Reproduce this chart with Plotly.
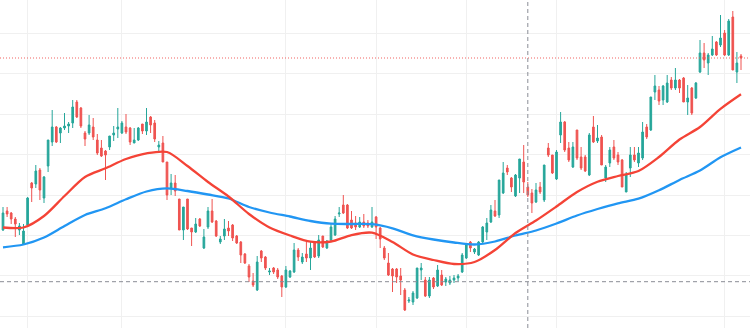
import plotly.graph_objects as go

# Daily OHLC bars (bar index 0..180)
opens = [77.0, 78.9, 78.7, 78.1, 77.0, 75.6, 77.5, 81.7, 81.6, 83.0,
         80.2, 83.4, 85.8, 87.3, 86.7, 87.2, 87.4, 87.7, 89.8, 89.2,
         86.7, 86.7, 87.3, 86.0, 85.2, 84.9, 85.3, 86.5, 87.1, 86.7,
         87.3, 87.2, 85.7, 86.0, 87.6, 86.9, 88.3, 87.7, 85.3, 85.7,
         83.8, 81.2, 81.7, 80.1, 77.0, 80.1, 77.2, 76.8, 78.1, 75.2,
         77.3, 78.9, 77.9, 75.8, 76.4, 77.2, 77.5, 76.4, 75.8, 74.6,
         73.4, 71.9, 71.0, 74.9, 74.3, 72.8, 73.2, 73.0, 72.4, 71.3,
         72.3, 72.8, 75.0, 73.8, 74.6, 74.2, 75.7, 74.4, 76.4, 75.2,
         76.0, 76.5, 78.6, 79.5, 79.5, 78.0, 77.7, 77.3, 77.8, 77.7,
         77.3, 78.3, 77.2, 75.2, 73.7, 73.1, 73.1, 72.4, 71.0, 69.9,
         69.8, 70.2, 73.0, 72.0, 70.4, 72.2, 71.4, 72.5, 71.8, 71.7,
         72.0, 72.2, 72.8, 74.2, 75.8, 74.8, 74.5, 75.8, 76.8, 77.8,
         78.9, 78.5, 80.7, 83.2, 82.2, 80.4, 82.2, 83.8, 81.3, 80.7,
         79.8, 81.3, 80.0, 85.2, 84.5, 82.1, 86.5, 87.8, 85.2, 83.3,
         87.0, 84.3, 84.3, 82.5, 87.3, 85.9, 86.3, 82.2, 83.7, 85.3,
         84.5, 84.0, 80.8, 83.2, 84.5, 83.7, 84.2, 87.3, 87.0, 90.8,
         91.0, 90.0, 89.8, 92.0, 91.2, 92.0, 92.2, 89.8, 91.2, 90.2,
         92.8, 94.7, 93.7, 94.5, 95.8, 95.5, 96.7, 94.5, 98.3, 92.8,
         94.4]
highs = [79.3, 79.3, 78.8, 78.3, 77.7, 77.6, 80.3, 81.8, 83.5, 83.2,
         82.4, 86.0, 89.0, 87.4, 87.3, 88.7, 87.8, 90.0, 90.0, 89.3,
         86.9, 88.5, 88.2, 86.6, 86.0, 85.0, 86.4, 87.4, 89.2, 87.9,
         88.6, 87.3, 87.2, 87.3, 87.6, 89.2, 88.4, 88.0, 85.9, 86.4,
         83.8, 82.6, 82.5, 80.1, 79.3, 80.1, 77.2, 78.2, 78.2, 77.1,
         79.3, 80.1, 78.0, 76.4, 78.1, 77.9, 77.6, 76.5, 75.9, 74.7,
         73.6, 72.7, 74.4, 75.0, 74.4, 73.2, 73.3, 73.2, 72.5, 73.4,
         73.0, 75.7, 75.2, 74.7, 75.8, 75.8, 75.8, 76.5, 76.4, 76.0,
         77.7, 78.4, 79.3, 80.5, 79.6, 78.9, 78.4, 78.3, 78.6, 78.0,
         79.3, 78.4, 77.3, 75.4, 74.7, 73.2, 73.2, 73.2, 71.2, 70.3,
         70.9, 73.2, 73.7, 72.3, 72.3, 72.3, 73.5, 73.0, 72.3, 72.4,
         72.5, 72.6, 74.7, 75.7, 75.9, 75.2, 75.9, 77.4, 78.2, 79.5,
         80.0, 82.0, 83.8, 83.5, 82.3, 82.6, 84.1, 85.5, 81.8, 81.1,
         81.7, 81.8, 83.5, 85.7, 84.5, 85.0, 88.8, 87.9, 85.8, 85.8,
         87.0, 85.3, 84.5, 86.7, 88.4, 87.5, 86.5, 83.5, 85.3, 86.0,
         84.8, 84.1, 82.8, 85.3, 85.3, 85.3, 87.8, 87.6, 90.3, 92.5,
         91.4, 91.5, 92.5, 92.3, 93.2, 92.1, 92.3, 91.5, 91.3, 91.8,
         96.0, 95.7, 94.7, 96.4, 95.9, 98.5, 97.0, 98.1, 98.9, 94.8,
         94.6]
lows = [76.9, 78.3, 77.6, 76.3, 76.5, 75.5, 77.3, 79.8, 81.2, 80.0,
        79.7, 82.8, 85.4, 85.7, 85.7, 87.0, 86.7, 87.2, 88.2, 87.2,
        85.4, 86.5, 86.0, 84.5, 84.3, 82.0, 85.0, 85.9, 86.2, 86.6,
        86.6, 85.5, 85.7, 85.9, 86.6, 86.5, 86.7, 85.8, 84.7, 83.8,
        80.0, 80.5, 80.4, 77.0, 76.0, 77.0, 75.4, 76.7, 77.3, 75.1,
        77.1, 77.7, 76.3, 75.6, 76.0, 76.4, 75.9, 75.6, 73.7, 73.6,
        71.8, 71.3, 70.9, 73.8, 73.0, 72.5, 72.6, 72.1, 70.3, 71.2,
        72.2, 72.7, 73.9, 73.6, 73.8, 73.0, 74.2, 74.2, 75.2, 75.1,
        75.9, 76.4, 78.3, 78.6, 77.1, 77.1, 77.0, 77.2, 77.2, 77.2,
        77.2, 76.1, 75.2, 74.0, 72.4, 70.8, 71.7, 70.5, 68.9, 69.7,
        69.5, 70.1, 72.0, 70.3, 70.2, 71.1, 71.3, 71.4, 71.4, 71.5,
        71.7, 71.9, 72.7, 74.1, 74.8, 74.6, 74.4, 75.7, 76.0, 77.7,
        78.3, 78.2, 80.6, 82.5, 80.8, 80.3, 80.7, 80.7, 80.3, 78.7,
        79.7, 80.6, 79.8, 84.3, 82.6, 82.0, 85.7, 84.8, 83.8, 83.2,
        84.0, 83.0, 82.8, 82.4, 85.7, 85.7, 83.5, 81.8, 83.3, 84.0,
        83.5, 81.3, 80.8, 82.3, 83.8, 83.3, 84.0, 86.1, 86.9, 90.0,
        89.5, 89.5, 89.7, 91.0, 91.0, 90.7, 89.8, 88.5, 88.5, 90.1,
        92.7, 93.2, 92.5, 94.4, 94.4, 95.3, 94.4, 94.4, 93.0, 91.7,
        93.0]
closes = [78.7, 78.6, 78.1, 77.6, 77.4, 76.9, 80.2, 81.2, 82.9, 81.0,
          82.3, 86.0, 87.3, 85.8, 87.2, 87.4, 87.6, 89.3, 88.3, 87.4,
          86.1, 87.5, 86.3, 84.7, 84.4, 84.5, 86.4, 86.7, 87.3, 87.7,
          86.8, 85.8, 86.0, 87.2, 86.9, 87.8, 87.5, 86.1, 85.5, 83.8,
          80.5, 81.7, 80.9, 77.0, 79.3, 77.1, 76.8, 77.6, 77.4, 76.3,
          78.9, 77.8, 76.4, 76.1, 77.1, 76.9, 76.2, 75.7, 74.5, 73.7,
          72.3, 71.5, 73.8, 74.2, 73.2, 72.9, 72.8, 72.3, 71.3, 73.0,
          72.9, 75.0, 74.3, 74.3, 74.2, 75.2, 74.3, 76.0, 75.3, 75.9,
          77.3, 78.1, 78.7, 78.7, 77.2, 77.2, 77.3, 77.8, 77.4, 77.4,
          77.8, 77.3, 76.1, 74.2, 72.5, 72.4, 72.3, 72.0, 69.0, 70.0,
          70.7, 73.2, 73.2, 70.4, 72.0, 71.3, 73.0, 71.5, 72.1, 72.0,
          72.2, 72.4, 74.5, 75.5, 75.2, 75.1, 75.8, 77.3, 77.7, 79.0,
          78.4, 82.0, 82.7, 82.8, 81.3, 82.5, 84.1, 81.8, 80.5, 79.7,
          81.0, 80.8, 83.5, 84.5, 82.7, 84.8, 87.8, 85.0, 84.0, 85.3,
          84.2, 83.2, 82.9, 86.5, 85.8, 86.2, 83.5, 83.3, 85.0, 84.2,
          83.8, 81.3, 82.5, 84.5, 84.0, 84.7, 86.8, 86.3, 90.3, 91.4,
          89.9, 91.4, 91.7, 91.2, 92.0, 91.2, 89.8, 90.2, 88.7, 91.7,
          94.7, 94.0, 94.5, 95.1, 94.5, 96.2, 94.5, 97.9, 93.0, 93.7,
          94.2]
bars = list(range(len(closes)))

# Moving averages, sampled every 5 bars
ma_bars = list(range(0, 181, 5))
ma_fast = [77.25, 77.25, 78.4, 80.4, 82.3, 83.17, 84.1, 84.67, 84.8, 83.4,
           81.8, 80.35, 78.6, 77.25, 76.45, 75.83, 75.85, 76.5, 76.73, 75.8,
           74.55, 74.0, 73.6, 73.8, 75.0, 76.7, 77.95, 79.35, 80.8, 81.83,
           82.4, 82.9, 84.3, 86.05, 87.3, 89.12, 90.58]
ma_slow = [75.27, 75.55, 76.25, 77.4, 78.5, 79.17, 80.07, 80.85, 81.17, 80.9,
           80.55, 80.15, 79.3, 78.75, 78.35, 77.9, 77.63, 77.6, 77.58, 77.17,
           76.47, 76.05, 75.75, 75.55, 75.85, 76.45, 76.95, 77.65, 78.45, 79.1,
           79.67, 80.13, 80.97, 82.0, 82.94, 84.27, 85.25]

# Month separators and crosshair position
month_bars = [6, 29, 69, 91, 113, 135, 176]
cross_bar = 128
cross_price = 71.83

UP = "#26a69a"
DOWN = "#ef5350"
GRID = "#f0f0f0"

fig = go.Figure()
fig.add_trace(go.Candlestick(
    x=bars, open=opens, high=highs, low=lows, close=closes,
    increasing=dict(line=dict(color=UP, width=1), fillcolor=UP),
    decreasing=dict(line=dict(color=DOWN, width=1), fillcolor=DOWN),
    whiskerwidth=0, hoverinfo="skip",
))
fig.add_trace(go.Scatter(
    x=ma_bars, y=ma_slow, mode="lines",
    line=dict(color="#2196f3", width=2.3, shape="spline", smoothing=0.8),
    hoverinfo="skip",
))
fig.add_trace(go.Scatter(
    x=ma_bars, y=ma_fast, mode="lines",
    line=dict(color="#f44336", width=2.3, shape="spline", smoothing=0.8),
    hoverinfo="skip",
))

# Last price line
fig.add_hline(y=closes[-1], line=dict(color="rgba(239,83,80,0.9)", width=1, dash="1px,2px"))
# Crosshair
fig.add_hline(y=cross_price, line=dict(color="#8a8d96", width=1, dash="4px,3px"))
fig.add_vline(x=cross_bar, line=dict(color="#8a8d96", width=1, dash="4px,3px"))

fig.update_layout(
    width=750, height=328,
    margin=dict(l=0, r=0, t=0, b=0),
    paper_bgcolor="white", plot_bgcolor="white",
    showlegend=False, boxgap=0.42,
)
fig.update_xaxes(
    range=[-0.732, 182.195], rangeslider=dict(visible=False),
    tickmode="array", tickvals=month_bars, showticklabels=False,
    showgrid=True, gridcolor=GRID, gridwidth=1,
    zeroline=False, showline=False, ticks="",
)
fig.update_yaxes(
    range=[67.2, 100.0], tick0=68.37, dtick=4.04, showticklabels=False,
    showgrid=True, gridcolor=GRID, gridwidth=1,
    zeroline=False, showline=False, ticks="",
)

fig.write_html("out.html")
